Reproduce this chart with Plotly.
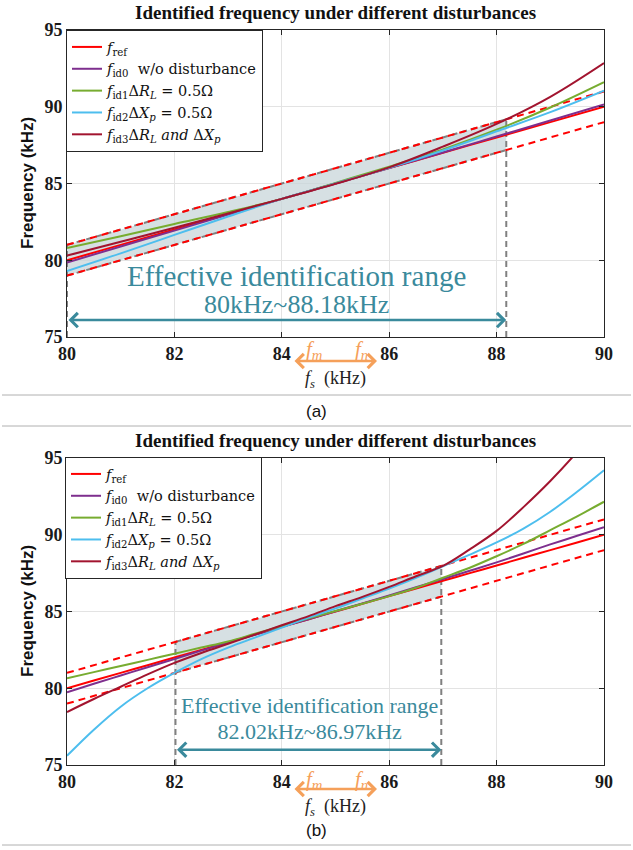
import plotly.graph_objects as go

W, H = 633, 850

# ---------------- data ----------------
fs_a = [80, 81, 82, 83, 84, 85, 86, 87, 88, 89, 90]
ref_a = [80, 81, 82, 83, 84, 85, 86, 87, 88, 89, 90]
fid0_a = [79.85, 80.9, 81.93, 82.97, 84.0, 85.0, 86.0, 87.02, 88.06, 89.1, 90.15]
fid1_a = [80.8, 81.57, 82.36, 83.14, 84.0, 85.04, 86.1, 87.22, 88.5, 89.95, 91.6]
fid2_a = [79.3, 80.45, 81.65, 82.85, 84.0, 85.0, 86.02, 87.15, 88.4, 89.65, 91.05]
fid3_a = [80.3, 81.2, 82.12, 83.05, 84.0, 84.98, 86.05, 87.4, 88.88, 90.65, 92.85]

fs_b = [80, 80.5, 81, 81.5, 82, 82.5, 83, 83.5, 84, 84.5, 85, 85.5, 86, 86.5,
        87, 87.5, 88, 88.5, 89, 89.5, 90]
ref_b = fs_b
fid0_b = [79.74, 80.29, 80.83, 81.37, 81.9, 82.45, 82.97, 83.48, 84.0, 84.5, 85.02,
          85.53, 86.05, 86.58, 87.12, 87.65, 88.2, 88.78, 89.37, 89.93, 90.5]
fid1_b = [80.65, 81.05, 81.45, 81.85, 82.25, 82.65, 83.05, 83.55, 84.05, 84.55, 85.03,
          85.5, 86.0, 86.55, 87.2, 87.85, 88.6, 89.4, 90.3, 91.2, 92.15]
fid2_b = [75.6, 77.3, 78.8, 80.0, 81.0, 81.9, 82.65, 83.3, 83.95, 84.6, 85.2,
          85.85, 86.5, 87.2, 87.95, 88.7, 89.5, 90.4, 91.5, 92.8, 94.2]
fid3_b = [78.45, 79.3, 80.1, 80.9, 81.65, 82.3, 82.9, 83.5, 84.1, 84.7, 85.35,
          85.95, 86.6, 87.3, 87.97, 89.05, 90.25, 91.8, 93.5, 95.4, 97.5]

band_x = [80, 90]
band_upper = [81, 91]
band_lower = [79, 89]

range_a = [80, 88.18]
range_b = [82.02, 86.97]
range_a_upper = [81, 89.18]
range_a_lower = [79, 87.18]
range_b_upper = [83.02, 87.97]
range_b_lower = [81.02, 85.97]

range_text_a = "80kHz~88.18kHz"
range_text_b = "82.02kHz~86.97kHz"

xticks = [80, 82, 84, 86, 88, 90]
yticks = [75, 80, 85, 90, 95]

names = [
    "<i>f</i><sub>ref</sub>",
    "<i>f</i><sub>id0</sub>  w/o disturbance",
    "<i>f</i><sub>id1</sub>Δ<i>R<sub>L</sub></i> = 0.5Ω",
    "<i>f</i><sub>id2</sub>Δ<i>X<sub>p</sub></i> = 0.5Ω",
    "<i>f</i><sub>id3</sub>Δ<i>R<sub>L</sub></i> <i>and</i> Δ<i>X<sub>p</sub></i>",
]
colors = ["#FF0000", "#7E2F8E", "#77AC30", "#4DBEEE", "#A2142F"]

# ---------------- styles ----------------
SERIF = "Liberation Serif, Times New Roman, serif"
LSERIF = "DejaVu Serif, serif"
SANS = "Liberation Sans, Arial, sans-serif"
TEAL = "#3A8A9C"
ORANGE = "#F5A05A"
GRAY = "#808080"
FILL = "rgba(200,214,218,0.75)"


def px2fx(px):
    return px / W


def py2fy(py):
    return 1 - py / H


fig = go.Figure()

panels = [
    dict(xa="x", ya="y", leg="legend", fs=fs_a, ref=ref_a,
         fids=[fid0_a, fid1_a, fid2_a, fid3_a], rng=range_a,
         up=range_a_upper, lo=range_a_lower),
    dict(xa="x2", ya="y2", leg="legend2", fs=fs_b, ref=ref_b,
         fids=[fid0_b, fid1_b, fid2_b, fid3_b], rng=range_b,
         up=range_b_upper, lo=range_b_lower),
]

for p in panels:
    xa, ya = p["xa"], p["ya"]
    r = p["rng"]
    fig.add_trace(go.Scatter(
        x=[r[0], r[1], r[1], r[0], r[0]],
        y=[p["lo"][0], p["lo"][1], p["up"][1], p["up"][0], p["lo"][0]],
        fill="toself", fillcolor=FILL, line=dict(width=0),
        mode="lines", showlegend=False, hoverinfo="skip", xaxis=xa, yaxis=ya))
    for yy in (p["up"], p["lo"]):
        fig.add_trace(go.Scatter(x=r, y=yy, mode="lines",
                                 line=dict(color=GRAY, width=2, dash="6px,4px"),
                                 showlegend=False, hoverinfo="skip", xaxis=xa, yaxis=ya))
    for xv, top in ((r[0], p["up"][0]), (r[1], p["up"][1])):
        fig.add_trace(go.Scatter(x=[xv, xv], y=[75, top], mode="lines",
                                 line=dict(color=GRAY, width=2, dash="6px,4px"),
                                 showlegend=False, hoverinfo="skip", xaxis=xa, yaxis=ya))
    for yy in (band_upper, band_lower):
        fig.add_trace(go.Scatter(x=band_x, y=yy, mode="lines",
                                 line=dict(color="#FF0000", width=2, dash="7px,5px"),
                                 showlegend=False, hoverinfo="skip", xaxis=xa, yaxis=ya))
    series = [p["ref"]] + p["fids"]
    for nm, col, yy in zip(names, colors, series):
        fig.add_trace(go.Scatter(x=p["fs"], y=yy, mode="lines", name=nm,
                                 line=dict(color=col, width=2, shape="spline"),
                                 legend=p["leg"], xaxis=xa, yaxis=ya))

axis_common = dict(
    showline=True, linecolor="#262626", linewidth=1, mirror="ticks",
    ticks="inside", ticklen=5, tickcolor="#262626",
    showgrid=True, gridcolor="#E3E3E3", gridwidth=1, zeroline=False,
    automargin=False,
    tickfont=dict(family=SERIF, size=18, color="#1a1a1a", weight="bold"),
)

xdom = [px2fx(67), px2fx(604)]
legend_common = dict(xanchor="left", yanchor="top",
                     bgcolor="white", bordercolor="#262626", borderwidth=1,
                     font=dict(family=LSERIF, size=14.5, color="#111"),
                     tracegroupgap=0, itemwidth=30)
fig.update_layout(
    width=W, height=H, autosize=False,
    margin=dict(l=0, r=0, t=0, b=0, pad=0, autoexpand=False),
    paper_bgcolor="white", plot_bgcolor="white",
    xaxis=dict(domain=xdom, range=[80, 90], tickvals=xticks, anchor="y", **axis_common),
    yaxis=dict(domain=[py2fy(337), py2fy(30)], range=[75, 95], tickvals=yticks,
               anchor="x", **axis_common),
    xaxis2=dict(domain=xdom, range=[80, 90], tickvals=xticks, anchor="y2", **axis_common),
    yaxis2=dict(domain=[py2fy(765), py2fy(458)], range=[75, 95], tickvals=yticks,
                anchor="x2", **axis_common),
    legend=dict(x=px2fx(66), y=py2fy(30), **legend_common),
    legend2=dict(x=px2fx(65), y=py2fy(457), **legend_common),
    showlegend=True,
)

ann = []
shapes = []


def text_ann(xp, yp, text, font, angle=0):
    return dict(x=px2fx(xp), y=py2fy(yp), xref="paper", yref="paper",
                xanchor="center", yanchor="middle", text=text, showarrow=False,
                textangle=angle, font=font)


for ty in (13, 440):
    ann.append(text_ann(335.5, ty, "<b>Identified frequency under different disturbances</b>",
                        dict(family=SERIF, size=19, color="#111")))
for cy in (183, 611):
    ann.append(text_ann(27, cy, "<b>Frequency (kHz)</b>",
                        dict(family=SANS, size=17, color="#111"), angle=-90))
for ly in (380, 807):
    ann.append(text_ann(335, ly, "<i>f<sub>s</sub></i>  (kHz)",
                        dict(family=SERIF, size=18, color="#222")))
for cy, t in ((411, "(a)"), (830, "(b)")):
    ann.append(text_ann(316.5, cy, t, dict(family=SANS, size=17, color="#111")))

# effective range text (two lines in one annotation)
ann.append(text_ann(296, 289,
                    '<span style="font-size:29px">Effective identification range</span><br>'
                    f'<span style="font-size:26px">{range_text_a}</span>',
                    dict(family=SERIF, size=21, color=TEAL)))
ann.append(text_ann(309.5, 718,
                    '<span style="font-size:22px">Effective identification range</span><br>'
                    f'<span style="font-size:22px">{range_text_b}</span>',
                    dict(family=SERIF, size=20, color=TEAL)))

for (r, yv, xa, ya) in ((range_a, 76.1, "x", "y"), (range_b, 76.0, "x2", "y2")):
    ann.append(dict(x=r[1], y=yv, ax=r[0], ay=yv, xref=xa, yref=ya, axref=xa, ayref=ya,
                    text="", showarrow=True, arrowhead=4, arrowside="end+start",
                    arrowsize=1.1, arrowwidth=2.5, arrowcolor=TEAL,
                    standoff=0, startstandoff=0))

for (ay_px, lab_py) in ((361, 350), (789, 780)):
    ann.append(dict(x=px2fx(377), y=py2fy(ay_px), xref="paper", yref="paper",
                    xanchor="center", yanchor="middle",
                    ax=-84, ay=0, axref="pixel", ayref="pixel", text="",
                    showarrow=True, arrowhead=4, arrowside="end+start",
                    arrowsize=1.1, arrowwidth=2.5, arrowcolor=ORANGE,
                    standoff=0, startstandoff=0))
    ann.append(text_ann(314, lab_py, "<i>f<sub>m</sub></i>",
                        dict(family=SERIF, size=21, color=ORANGE)))
    ann.append(text_ann(361, lab_py, "<i>f<sub>n</sub></i>",
                        dict(family=SERIF, size=21, color=ORANGE)))

for sy in (395, 426, 845):
    shapes.append(dict(type="line", xref="paper", yref="paper",
                       x0=px2fx(2), x1=px2fx(631), y0=py2fy(sy), y1=py2fy(sy),
                       line=dict(color="#B0B0B0", width=1)))

fig.update_layout(annotations=ann, shapes=shapes)
fig.write_html("out.html",
               config={"displayModeBar": False},
               post_script="document.body.style.margin='0';document.body.style.overflow='hidden';")
